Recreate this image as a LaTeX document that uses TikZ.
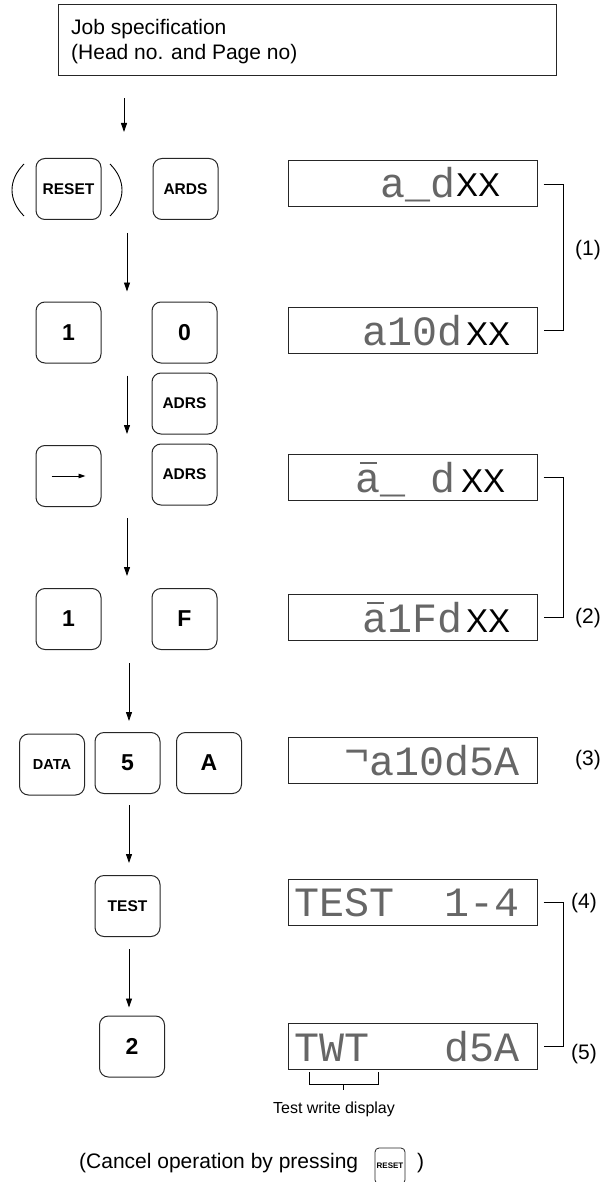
\documentclass[tikz,border=0pt]{standalone}
\usepackage{fontspec}
\setmainfont{Liberation Sans}
\newfontfamily\lcdfont{Liberation Mono}
\usetikzlibrary{arrows.meta}
\newcommand\abar{\rlap{\hspace{0.1em}\rule[0.68em]{0.42em}{0.045em}}a}
\newcommand\notch{\raisebox{0.22em}{¬}}
\newcommand\lsp{\hspace{0.6em}}
\begin{document}
\begin{tikzpicture}[x=1pt,y=-1pt,
  key/.style={draw=black!85, line width=1pt, rounded corners=9pt, minimum width=65pt, minimum height=61pt, inner sep=0pt, font=\bfseries\fontsize{15.5}{18}\selectfont},
  bigkey/.style={key, font=\bfseries\fontsize{23}{27}\selectfont},
  lcd/.style={draw=black!85, line width=1pt, minimum width=249pt, minimum height=46pt, inner sep=0pt},
  lcdtxt/.style={inner sep=0pt, anchor=base east, text=black!60, font=\lcdfont\fontsize{41.7}{44}\selectfont},
  xx/.style={inner sep=0pt, anchor=base west, font=\fontsize{33}{36}\selectfont},
  flow/.style={line width=0.9pt, -{Triangle[length=9pt,width=6pt]}},
  brk/.style={line width=0.9pt},
  lbl/.style={inner sep=0pt, anchor=west, font=\fontsize{21}{25}\selectfont},
  txt/.style={inner sep=0pt, anchor=base west, font=\fontsize{21}{25}\selectfont},
]
\useasboundingbox (0,0) rectangle (602,1182);
\clip (0,0) rectangle (602,1182);

% title box
\node[draw=black!85, line width=1pt, minimum width=498pt, minimum height=71pt, inner sep=0pt] (title) at (307,40.5) {};
\node[txt] (title1) at (71,35) {Job specification};
\node[txt] (title2) at (71,60) {(Head no. and Page no)};

% keys
\node[key] (reset) at (68.5,189) {RESET};
\node[key] (ards) at (185.5,189) {ARDS};
\draw[line width=0.9pt] (24,164) .. controls (8,180) and (8,200) .. (24,216);
\draw[line width=0.9pt] (110,164) .. controls (126,180) and (126,200) .. (110,216);

\node[bigkey] (k1a) at (68.5,332.5) {1};
\node[bigkey] (k0) at (184.5,332.5) {0};
\node[key] (adrs1) at (184.5,403.5) {ADRS};
\node[key] (arrowkey) at (68.5,476) {};
\draw[line width=0.9pt, -{Triangle[length=7pt,width=4.5pt]}] ([xshift=-17pt]arrowkey.center) -- ([xshift=17pt]arrowkey.center);
\node[key] (adrs2) at (184.5,474.5) {ADRS};
\node[bigkey] (k1b) at (68.5,619) {1};
\node[bigkey] (kF) at (184.5,619) {F};
\node[key, font=\bfseries\fontsize{14.5}{17}\selectfont] (data) at (52,764.5) {DATA};
\node[bigkey] (k5) at (127.5,763) {5};
\node[bigkey] (kA) at (209,763) {A};
\node[key] (test) at (127.5,906) {TEST};
\node[bigkey] (k2) at (132,1046.5) {2};

% flow arrows
\coordinate (cA) at (124,0);
\coordinate (cB) at (127,0);
\coordinate (cC) at (129,0);
\draw[flow, shorten <=22pt, shorten >=26pt] (title.south -| cA) -- (reset.north -| cA);
\draw[flow, shorten <=13pt, shorten >=10pt] (reset.south -| cB) -- (k1a.north -| cB);
\draw[flow, shorten <=12pt, shorten >=11pt] (k1a.south -| cB) -- (arrowkey.north -| cB);
\draw[flow, shorten <=11pt, shorten >=12pt] (arrowkey.south -| cB) -- (k1b.north -| cB);
\draw[flow, shorten <=13pt, shorten >=11pt] (k1b.south -| cC) -- (k5.north -| cC);
\draw[flow, shorten <=11pt, shorten >=12pt] (k5.south -| cC) -- (test.north -| cC);
\draw[flow, shorten <=12pt, shorten >=8pt] (test.south -| cC) -- (k2.north -| cC);

% displays
\node[lcd] (d1) at (412.5,184) {};
\node[lcd] (d2) at (412.5,330.5) {};
\node[lcd] (d3) at (412.5,477.5) {};
\node[lcd] (d4) at (412.5,617.5) {};
\node[lcd] (d5) at (412.5,760.5) {};
\node[lcd] (d6) at (412.5,902) {};
\node[lcd] (d7) at (412.5,1046) {};

\node[lcdtxt] (t1) at (456,198) {a\_d};
\node[xx] (x1) at (456,197) {XX};
\node[lcdtxt] (t2) at (463,345) {a10d};
\node[xx] (x2) at (466,345) {XX};
\node[lcdtxt] (t3) at (456,492) {\abar\_\lsp d};
\node[xx] (x3) at (461,492) {XX};
\node[lcdtxt] (t4) at (463,632) {\abar 1Fd};
\node[xx] (x4) at (466,632) {XX};
\node[lcdtxt] (t5) at (520,775) {\notch a10d5A};
\node[lcdtxt] (t6) at (520,916) {TEST\lsp\lsp 1-4};
\node[lcdtxt] (t7) at (520,1061) {TWT\lsp\lsp\lsp d5A};

% brackets
\draw[brk] ([xshift=6pt]d1.east) -- ++(20,0) |- ([xshift=6pt]d2.east);
\draw[brk] ([xshift=6pt]d3.east) -- ++(20,0) |- ([xshift=6pt]d4.east);
\draw[brk] ([xshift=6pt]d6.east) -- ++(20,0) |- ([xshift=6pt]d7.east);
\node[lbl] (l1) at (575,250) {(1)};
\node[lbl] (l2) at (575,618) {(2)};
\node[lbl] (l3) at (575,760) {(3)};
\node[lbl] (l4) at (571,903) {(4)};
\node[lbl] (l5) at (571,1054) {(5)};

% test write display bracket
\coordinate (tl) at (309,1072);
\coordinate (tr) at (378,1072);
\coordinate (tm) at (343,1084);
\draw[line width=0.8pt] (tl) -- ++(0,12) -| (tr);
\draw[line width=0.8pt] (tm) -- ++(0,6);
\node[inner sep=0pt, anchor=base, font=\fontsize{16}{19}\selectfont] (twd) at (334,1113) {Test write display};

% cancel note
\node[txt] (cancel) at (79,1168) {(Cancel operation by pressing};
\node[draw=black!85, line width=0.8pt, rounded corners=4pt, minimum width=30pt, minimum height=36pt, inner sep=0pt, font=\bfseries\fontsize{8}{9}\selectfont] (rk) at (390,1166) {RESET};
\node[txt] (cparen) at (417,1168) {)};
\end{tikzpicture}
\end{document}
